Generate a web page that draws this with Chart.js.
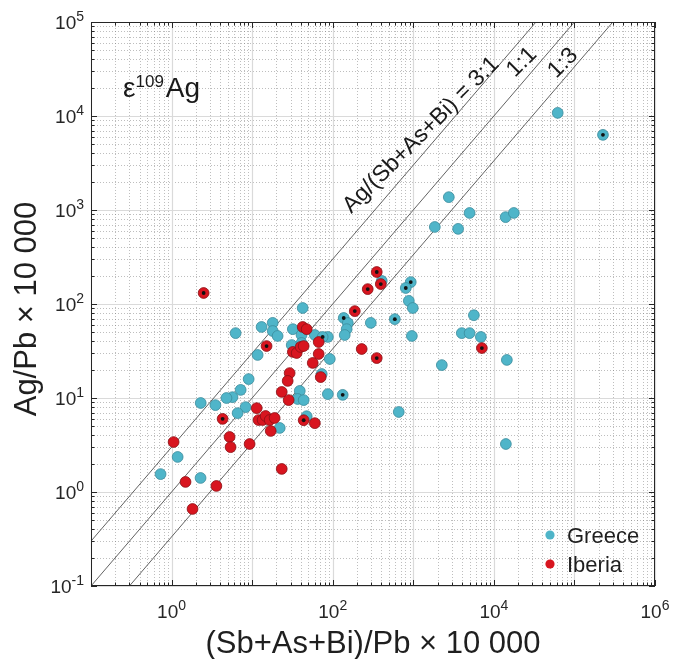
<!DOCTYPE html>
<html>
<head>
<meta charset="utf-8">
<script src="https://cdn.jsdelivr.net/npm/chart.js@4/dist/chart.umd.min.js"></script>
<style>
  html, body { margin: 0; padding: 0; background: #ffffff; }
  #wrap { width: 673px; height: 659px; }
</style>
</head>
<body>
<div id="wrap"><canvas id="c" width="673" height="659"></canvas></div>
<script>
const FONT = "'Liberation Sans', Arial, Helvetica, sans-serif";

// (Sb+As+Bi)/Pb x 10 000 and Ag/Pb x 10 000 per sample
const greeceX = [62000, 226000, 2760, 5000, 1850, 3600, 14000, 17700, 5650, 4000,
  5000, 6900, 14500, 2260, 14100, 960, 406, 930, 807, 880,
  986, 590, 297, 137, 154, 149, 141, 92, 60, 87,
  75, 73, 87, 133, 660, 42.4, 6.24, 13.1, 18, 18,
  20.7, 32, 41, 31, 41, 11.7, 9.05, 39, 36.7, 43.6,
  7.2, 5.7, 4.8, 3.5, 2.3, 8.3, 6.6, 22, 47.5, 1.19,
  0.73, 2.29];
const greeceY = [10800, 6300, 1370, 930, 660, 630, 840, 930, 76, 49,
  49, 44.6, 25.4, 22.4, 3.24, 45.7, 176, 171, 148, 108,
  90.7, 69, 63, 71, 62.8, 54, 46.8, 26, 46.8, 44.6,
  44.6, 18, 11, 10.8, 7.1, 90.7, 49, 57, 63, 51.6,
  45.7, 54, 46.8, 36.6, 38.5, 28.7, 15.9, 11.9, 9.76, 9.5,
  12.2, 10.2, 10, 8.4, 8.85, 8.0, 6.9, 4.8, 6.4, 2.36,
  1.55, 1.41];
// 1 = sample flagged with a black centre dot
const greeceFlag = [0, 1, 0, 0, 0, 0, 0, 0, 0, 0,
  0, 0, 0, 0, 0, 0, 0, 1, 1, 0,
  0, 1, 0, 1, 0, 0, 0, 0, 0, 0,
  1, 0, 0, 1, 0, 0, 0, 0, 0, 0,
  0, 0, 0, 0, 0, 0, 0, 0, 0, 0,
  0, 0, 0, 0, 0, 0, 0, 0, 0, 0,
  0, 0];

const iberiaX = [2.5, 352, 272, 395, 188, 229, 352, 7100, 42.4, 47.5,
  15.1, 32, 35.7, 40, 43.6, 67, 67, 56.5, 71, 29.2,
  27.6, 23.3, 28.4, 11.4, 4.3, 12.0, 13.5, 14.7, 16.5, 19.0,
  17, 5.25, 5.4, 9.3, 43.6, 60, 23.3, 1.06, 1.49, 3.6,
  1.82];
const iberiaY = [131, 219, 144, 163, 84, 33.2, 26.6, 34, 57, 54,
  35.7, 30.9, 30.1, 34.9, 35.7, 39.4, 29.4, 23.6, 16.7, 18.4,
  15.2, 11.6, 9.5, 7.8, 6.0, 5.83, 5.83, 6.44, 5.83, 6.13,
  4.46, 3.85, 3.0, 3.24, 5.8, 5.4, 1.76, 3.4, 1.28, 1.16,
  0.66];
const iberiaFlag = [1, 1, 1, 1, 1, 0, 1, 1, 0, 0,
  1, 0, 0, 0, 0, 0, 0, 0, 0, 0,
  0, 0, 0, 0, 1, 0, 0, 0, 0, 0,
  0, 0, 0, 0, 1, 0, 0, 0, 0, 0,
  0];

// Reference ratios Ag/(Sb+As+Bi)
const ratioValues = [3, 1, 1 / 3];
const ratioLabels = ['Ag/(Sb+As+Bi) = 3:1', '1:1', '1:3'];

// Axis ranges and labelled decades
const X_MIN = 0.1, X_MAX = 1e6, Y_MIN = 0.1, Y_MAX = 1e5;
const xTickExponents = [0, 2, 4, 6];
const yTickExponents = [-1, 0, 1, 2, 3, 4, 5];

const seriesNames = ['Greece', 'Iberia'];
const seriesFill = ['#4fb5c9', '#d8151f'];
const seriesEdge = ['#3b8c9c', '#8a0f14'];

function points(xs, ys) { return xs.map((x, i) => ({ x: x, y: ys[i] })); }
function flagged(xs, ys, flags) { return points(xs, ys).filter((p, i) => flags[i] === 1); }

const ratioDatasets = ratioValues.map(r => ({
  type: 'line',
  data: [{ x: X_MIN, y: r * X_MIN }, { x: Y_MAX / r, y: Y_MAX }],
  borderColor: '#505050',
  borderWidth: 0.9,
  pointRadius: 0,
  fill: false,
  order: 4
}));

const datasets = [
  {
    label: seriesNames[0], data: points(greeceX, greeceY),
    backgroundColor: seriesFill[0], borderColor: seriesEdge[0], borderWidth: 0.8,
    pointRadius: 5.4, order: 3
  },
  {
    label: seriesNames[1], data: points(iberiaX, iberiaY),
    backgroundColor: seriesFill[1], borderColor: seriesEdge[1], borderWidth: 0.8,
    pointRadius: 5.4, order: 2
  },
  {
    label: 'flag', data: flagged(greeceX, greeceY, greeceFlag).concat(flagged(iberiaX, iberiaY, iberiaFlag)),
    backgroundColor: '#111111', borderWidth: 0, pointRadius: 1.9, order: 1
  }
].concat(ratioDatasets);

function decadeValues(min, max) {
  const out = [];
  for (let e = Math.round(Math.log10(min)); e < Math.round(Math.log10(max)); e++) {
    for (let m = 1; m <= 9; m++) out.push({ v: m * Math.pow(10, e), major: m === 1 });
  }
  out.push({ v: max, major: true });
  return out;
}

// Grid: solid lines at decades, dotted lines in between
const gridPlugin = {
  id: 'logGrid',
  beforeDatasetsDraw(chart) {
    const { ctx, chartArea: a, scales: { x, y } } = chart;
    const xs = decadeValues(X_MIN, X_MAX), ys = decadeValues(Y_MIN, Y_MAX);
    ctx.save();
    ctx.lineWidth = 1;
    ctx.setLineDash([1, 2]);
    ctx.strokeStyle = 'rgba(110,110,110,0.45)';
    xs.filter(t => !t.major).forEach(t => {
      const px = Math.round(x.getPixelForValue(t.v)) + 0.5;
      ctx.beginPath(); ctx.moveTo(px, a.top); ctx.lineTo(px, a.bottom); ctx.stroke();
    });
    ys.filter(t => !t.major).forEach(t => {
      const py = Math.round(y.getPixelForValue(t.v)) + 0.5;
      ctx.beginPath(); ctx.moveTo(a.left, py); ctx.lineTo(a.right, py); ctx.stroke();
    });
    ctx.setLineDash([]);
    ctx.strokeStyle = '#dadada';
    ctx.lineWidth = 1.2;
    xs.filter(t => t.major).forEach(t => {
      const px = Math.round(x.getPixelForValue(t.v)) + 0.5;
      ctx.beginPath(); ctx.moveTo(px, a.top); ctx.lineTo(px, a.bottom); ctx.stroke();
    });
    ys.filter(t => t.major).forEach(t => {
      const py = Math.round(y.getPixelForValue(t.v)) + 0.5;
      ctx.beginPath(); ctx.moveTo(a.left, py); ctx.lineTo(a.right, py); ctx.stroke();
    });
    ctx.restore();
  }
};

function drawPower(ctx, exp, x, baseline, align) {
  ctx.font = '19px ' + FONT;
  const wb = ctx.measureText('10').width;
  ctx.font = '14px ' + FONT;
  const we = ctx.measureText(exp).width;
  const start = align === 'center' ? x - (wb + we) / 2 : x - (wb + we);
  ctx.textAlign = 'left';
  ctx.textBaseline = 'alphabetic';
  ctx.font = '19px ' + FONT;
  ctx.fillText('10', start, baseline);
  ctx.font = '14px ' + FONT;
  ctx.fillText(exp, start + wb, baseline - 8);
}

// Frame, inward ticks, tick labels, titles, annotations, legend
const axesPlugin = {
  id: 'axesDecor',
  afterDatasetsDraw(chart) {
    const { ctx, chartArea: a, scales: { x, y } } = chart;
    ctx.save();
    // ratio line labels
    ctx.fillStyle = '#1a1a1a';
    ctx.font = '23px ' + FONT;
    ctx.textAlign = 'center';
    ctx.textBaseline = 'middle';
    const anchors = [{ at: 1250, dy: -21 }, { at: 22300, dy: -21 }, { at: 72100, dy: -17 }];
    ratioValues.forEach((r, i) => {
      const px = x.getPixelForValue(anchors[i].at);
      const py = y.getPixelForValue(r * anchors[i].at) + anchors[i].dy;
      ctx.save();
      ctx.translate(px, py);
      ctx.rotate(-Math.PI / 4);
      ctx.fillText(ratioLabels[i], 0, 0);
      ctx.restore();
    });

    // isotope label
    ctx.textAlign = 'left';
    ctx.textBaseline = 'alphabetic';
    ctx.font = '28px ' + FONT;
    ctx.fillText('ε', a.left + 32, 97);
    const we = ctx.measureText('ε').width;
    ctx.font = '17px ' + FONT;
    ctx.fillText('109', a.left + 32 + we, 87);
    const wn = ctx.measureText('109').width;
    ctx.font = '28px ' + FONT;
    ctx.fillText('Ag', a.left + 34 + we + wn, 97);

    // frame and ticks
    ctx.strokeStyle = '#262626';
    ctx.lineWidth = 1;
    ctx.strokeRect(a.left + 0.5, a.top + 0.5, a.right - a.left - 1, a.bottom - a.top - 1);
    decadeValues(X_MIN, X_MAX).forEach(t => {
      const px = Math.round(x.getPixelForValue(t.v)) + 0.5;
      const len = t.major ? 6 : 3.5;
      ctx.beginPath();
      ctx.moveTo(px, a.bottom); ctx.lineTo(px, a.bottom - len);
      ctx.moveTo(px, a.top); ctx.lineTo(px, a.top + len);
      ctx.stroke();
    });
    decadeValues(Y_MIN, Y_MAX).forEach(t => {
      const py = Math.round(y.getPixelForValue(t.v)) + 0.5;
      const len = t.major ? 6 : 3.5;
      ctx.beginPath();
      ctx.moveTo(a.left, py); ctx.lineTo(a.left + len, py);
      ctx.moveTo(a.right, py); ctx.lineTo(a.right - len, py);
      ctx.stroke();
    });

    // tick labels
    ctx.fillStyle = '#262626';
    xTickExponents.forEach(e => {
      drawPower(ctx, String(e), x.getPixelForValue(Math.pow(10, e)), a.bottom + 32, 'center');
    });
    yTickExponents.forEach(e => {
      drawPower(ctx, String(e), a.left - 7, y.getPixelForValue(Math.pow(10, e)) + 7, 'right');
    });

    // axis titles
    ctx.fillStyle = '#1f1f1f';
    ctx.font = '31px ' + FONT;
    ctx.textAlign = 'center';
    ctx.textBaseline = 'alphabetic';
    ctx.fillText('(Sb+As+Bi)/Pb × 10 000', (a.left + a.right) / 2, a.bottom + 67);
    ctx.save();
    ctx.translate(36, (a.top + a.bottom) / 2 + 5);
    ctx.rotate(-Math.PI / 2);
    ctx.fillText('Ag/Pb × 10 000', 0, 0);
    ctx.restore();

    // legend
    ctx.font = '22px ' + FONT;
    ctx.textAlign = 'left';
    seriesNames.forEach((name, i) => {
      const cy = 535 + i * 29;
      ctx.beginPath();
      ctx.arc(550, cy, 4.6, 0, Math.PI * 2);
      ctx.fillStyle = seriesFill[i];
      ctx.fill();
      ctx.fillStyle = '#1f1f1f';
      ctx.fillText(name, 567, cy + 8);
    });
    ctx.restore();
  }
};

new Chart(document.getElementById('c'), {
  type: 'scatter',
  data: { datasets: datasets },
  options: {
    responsive: false,
    animation: false,
    devicePixelRatio: 1,
    layout: { padding: { left: 91, right: 18, top: 22, bottom: 73 } },
    plugins: { legend: { display: false }, tooltip: { enabled: false } },
    scales: {
      x: {
        type: 'logarithmic', min: X_MIN, max: X_MAX,
        ticks: { display: false }, grid: { display: false }, border: { display: false },
        afterFit(s) { s.height = 0; }
      },
      y: {
        type: 'logarithmic', min: Y_MIN, max: Y_MAX,
        ticks: { display: false }, grid: { display: false }, border: { display: false },
        afterFit(s) { s.width = 0; }
      }
    }
  },
  plugins: [gridPlugin, axesPlugin]
});
</script>
</body>
</html>
